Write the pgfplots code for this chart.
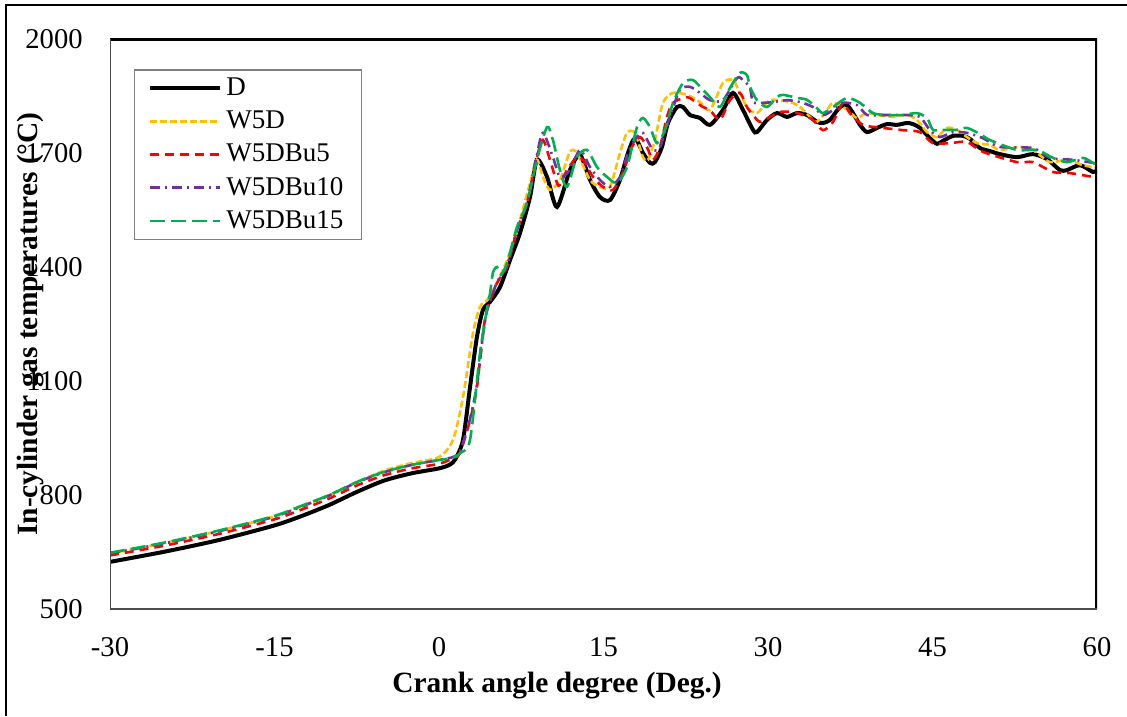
\documentclass[border=0pt]{standalone}
\usepackage{pgfplots}
\pgfplotsset{compat=1.18}
\usepackage{fontspec}
\setmainfont{Liberation Serif}
\definecolor{cyel}{RGB}{255,192,0}
\definecolor{cred}{RGB}{255,0,0}
\definecolor{cpur}{RGB}{112,48,160}
\definecolor{cgrn}{RGB}{0,176,80}
\newcommand{\fs}{\fontsize{13.5}{16}\selectfont}
\newcommand{\ft}{\fontsize{14.3}{16}\selectfont}
\newcommand{\fl}{\fontsize{14.7}{17}\selectfont}
\begin{document}
\begin{tikzpicture}
\path[use as bounding box] (0,0) rectangle (563.5pt,358pt);
\draw[line width=0.8pt] (3pt,0) -- (3pt,355.5pt) -- (563.5pt,355.5pt);
\begin{axis}[
  at={(55pt,53.5pt)}, anchor=south west,
  scale only axis,
  width=493.5pt, height=285pt,
  xmin=-30, xmax=60, ymin=500, ymax=2000,
  xtick={-30,-15,0,15,30,45,60},
  xticklabels={-30,-15,0,15,30,45,60},
  ytick={500,800,1100,1400,1700,2000},
  yticklabels={500,800,1100,1400,1700,2000},
  major tick length=0pt,
  axis line style={draw=none},
  tick label style={font=\ft},
  xticklabel style={anchor=center, yshift=-19pt},
  yticklabel style={anchor=east, inner sep=0pt, xshift=-13.5pt},
  xlabel={\textbf{Crank angle degree (Deg.)}},
  ylabel={\textbf{In-cylinder gas temperatures (°C)}},
  label style={font=\fl},
  xlabel style={at={(axis description cs:0.453,-0.135)}, anchor=center},
  ylabel style={at={(axis description cs:-0.081,0.5)}, anchor=center},
  legend style={at={(axis description cs:0.024,0.947)}, anchor=north west,
    draw=gray, line width=0.8pt, font=\fs, inner xsep=7pt, inner ysep=2pt,
    row sep=2.2pt},
  legend cell align=left,
  legend image code/.code={\draw[#1] (0pt,0pt) -- (35pt,0pt);},
  every axis plot/.append style={smooth, tension=0.45},
]
\addplot[black, line width=2pt] coordinates {
(-30,624) (-25,651) (-20,682) (-15,720) (-12.5,745) (-10,774) (-7.5,808) (-5,838)
(-2.5,857) (0,870) (1,880) (1.5,895) (2.19,945) (2.83,1084) (3.46,1216) (4.01,1287) (4.65,1308)
(5.56,1347) (6.47,1418) (7.38,1489) (8.30,1584) (8.93,1682) (9.85,1637) (10.76,1558)
(11.94,1655) (12.86,1695) (13.77,1629) (14.68,1584) (15.59,1576) (16.50,1629)
(17.23,1700) (17.87,1739) (18.60,1700) (19.24,1674) (19.69,1676) (20.33,1716)
(20.88,1779) (21.70,1821) (22.25,1821) (22.89,1800) (23.80,1792) (24.71,1774)
(25.89,1813) (26.81,1858) (27.72,1813) (28.63,1761) (29.00,1755) (29.91,1787)
(30.82,1805) (31.73,1795) (32.64,1805) (33.55,1800) (34.47,1782) (35.01,1779)
(35.65,1787) (36.56,1821) (37.20,1826) (37.75,1805) (38.39,1774) (39.03,1755)
(39.94,1766) (40.85,1776) (41.76,1774) (42.67,1779) (43.22,1776) (43.86,1766)
(44.77,1739) (45.41,1724) (45.96,1732) (46.87,1745) (47.78,1745) (48.42,1737)
(49.33,1713) (50.24,1705) (51.15,1697) (52.70,1689) (54.16,1697) (55.44,1684)
(56.62,1655) (57.26,1655) (58.45,1668) (59.63,1650) (60,1655)};
\addlegendentry{D}
\addplot[cyel, line width=1.3pt, dash pattern=on 3.5pt off 1.5pt] coordinates {
(-30,646) (-25,674) (-20,706) (-15,744) (-12.5,771) (-10,800) (-7.5,834) (-5,864)
(-2.5,884) (0,900) (1.28,945) (2.19,1058) (3.10,1226) (3.74,1295) (4.38,1313) (5.29,1358)
(6.47,1437) (7.38,1524) (8.30,1621) (8.93,1682) (9.48,1637) (10.12,1603) (11.03,1629)
(11.94,1703) (12.58,1700) (13.77,1629) (14.68,1611) (15.59,1611) (16.50,1700)
(17.14,1753) (17.87,1753) (18.60,1689) (19.06,1682) (19.69,1734) (20.42,1832)
(21.34,1858) (22.61,1853) (23.80,1834) (24.71,1813) (25.89,1884) (26.81,1892)
(27.44,1858) (28.08,1821) (29.00,1805) (30.18,1839) (32.00,1834) (32.92,1821)
(33.83,1795) (34.47,1782) (35.38,1813) (35.93,1832) (36.84,1821) (37.75,1800)
(38.11,1792) (39.03,1805) (39.94,1800) (41.40,1795) (42.67,1800) (43.58,1787)
(44.50,1755) (45.41,1742) (46.32,1766) (47.23,1761) (48.14,1742) (49.05,1726)
(50.24,1721) (51.15,1708) (52.98,1716) (54.16,1708) (55.71,1676) (57.26,1682)
(58.72,1668) (60,1661)};
\addlegendentry{W5D}
\addplot[cred, line width=1.3pt, dash pattern=on 4.5pt off 3pt] coordinates {
(-30,641) (-25,667) (-20,698) (-15,736) (-12.5,762) (-10,791) (-7.5,825) (-5,852)
(-2.5,870) (0,882) (1.28,897) (1.91,911) (2.83,997) (3.46,1084) (4.01,1226) (4.38,1287)
(5.29,1358) (6.20,1400) (7.11,1497) (8.02,1568) (8.93,1689) (9.48,1734) (10.12,1682)
(10.76,1621) (11.03,1616) (11.67,1655) (12.58,1689) (13.13,1682) (14.04,1637)
(14.95,1611) (15.87,1603) (16.78,1650) (17.60,1716) (18.33,1742) (18.96,1716)
(19.51,1682) (20.15,1716) (20.79,1795) (21.34,1832) (22.61,1847) (23.16,1839)
(24.07,1821) (24.71,1813) (25.62,1787) (26.53,1839) (27.44,1858) (28.08,1821)
(28.63,1800) (29.27,1782) (30.18,1795) (31.09,1808) (32.28,1808) (33.19,1800)
(34.10,1787) (35.01,1760) (35.93,1782) (36.84,1832) (37.47,1805) (38.66,1774)
(40.48,1766) (42.31,1760) (43.86,1755) (45.04,1726) (46.59,1726) (48.14,1729)
(49.60,1703) (52.70,1676) (54.16,1676) (55.99,1650) (57.54,1647) (59.63,1637)
(60,1635)};
\addlegendentry{W5DBu5}
\addplot[cpur, line width=1.3pt, dash pattern=on 5pt off 2.5pt on 1pt off 2.5pt] coordinates {
(-30,646) (-25,673) (-20,705) (-15,743) (-12.5,770) (-10,799) (-7.5,833) (-5,860)
(-2.5,879) (0,892) (1.28,900) (1.91,915) (2.83,1000) (3.46,1090) (4.01,1220) (4.38,1285)
(4.92,1330) (5.29,1360) (6.20,1405) (7.11,1497) (8.02,1570) (8.93,1695) (9.48,1753)
(10.39,1689) (11.03,1637) (11.94,1655) (12.86,1708) (13.77,1663) (14.68,1629)
(15.59,1611) (16.50,1637) (17.23,1700) (18.05,1742) (18.60,1753) (19.51,1708)
(20.15,1716) (21.06,1795) (21.97,1866) (22.89,1874) (23.80,1858) (24.71,1839)
(25.89,1839) (27.17,1897) (27.72,1892) (28.36,1871) (28.63,1834) (29.54,1832)
(30.45,1834) (31.73,1839) (32.92,1834) (34.10,1821) (35.01,1800) (35.93,1813)
(36.84,1832) (38.11,1826) (39.03,1800) (40.21,1800) (41.76,1800) (42.67,1800)
(43.86,1795) (44.77,1760) (45.68,1742) (46.87,1755) (48.14,1753) (49.60,1739)
(51.15,1716) (54.16,1713) (55.71,1687) (57.81,1682) (59.63,1674) (60,1670)};
\addlegendentry{W5DBu10}
\addplot[cgrn, line width=1.3pt, dash pattern=on 7.5pt off 3pt] coordinates {
(-30,648) (-25,675) (-20,707) (-15,745) (-12.5,772) (-10,800) (-7.5,834) (-5,861)
(-2.5,879) (0,892) (1.28,898) (1.91,910) (2.83,945) (3.74,1174) (4.38,1290) (4.65,1330)
(4.92,1385) (5.29,1400) (5.65,1380) (6.20,1410) (7.11,1505) (8.02,1568) (8.93,1682)
(9.85,1768) (10.39,1734) (11.03,1655) (11.67,1611) (12.58,1689) (13.49,1708)
(14.41,1663) (15.32,1637) (16.23,1621) (17.14,1663) (18.05,1768) (18.60,1792)
(19.24,1768) (19.88,1726) (20.61,1761) (21.34,1832) (22.25,1884) (23.16,1892)
(24.07,1866) (24.71,1847) (25.62,1821) (26.53,1871) (27.44,1911) (28.08,1905)
(28.36,1874) (29.00,1839) (29.91,1821) (30.82,1847) (31.37,1853) (32.64,1845)
(33.55,1840) (34.47,1818) (35.01,1805) (35.93,1821) (37.20,1845) (38.39,1832)
(39.57,1805) (40.85,1800) (42.31,1800) (43.58,1805) (44.50,1792) (45.04,1761)
(45.96,1761) (47.23,1761) (48.14,1766) (49.33,1750) (50.24,1734) (52.70,1708)
(54.53,1708) (55.99,1687) (57.26,1676) (58.72,1687) (59.63,1674) (60,1670)};
\addlegendentry{W5DBu15}
\draw[black, line width=1.6pt] (rel axis cs:0,1) -- (rel axis cs:1,1) -- (rel axis cs:1,0);
\draw[black!70, line width=1.2pt] (rel axis cs:1,0) -- (rel axis cs:0,0) -- (rel axis cs:0,1);
\end{axis}
\end{tikzpicture}
\end{document}
